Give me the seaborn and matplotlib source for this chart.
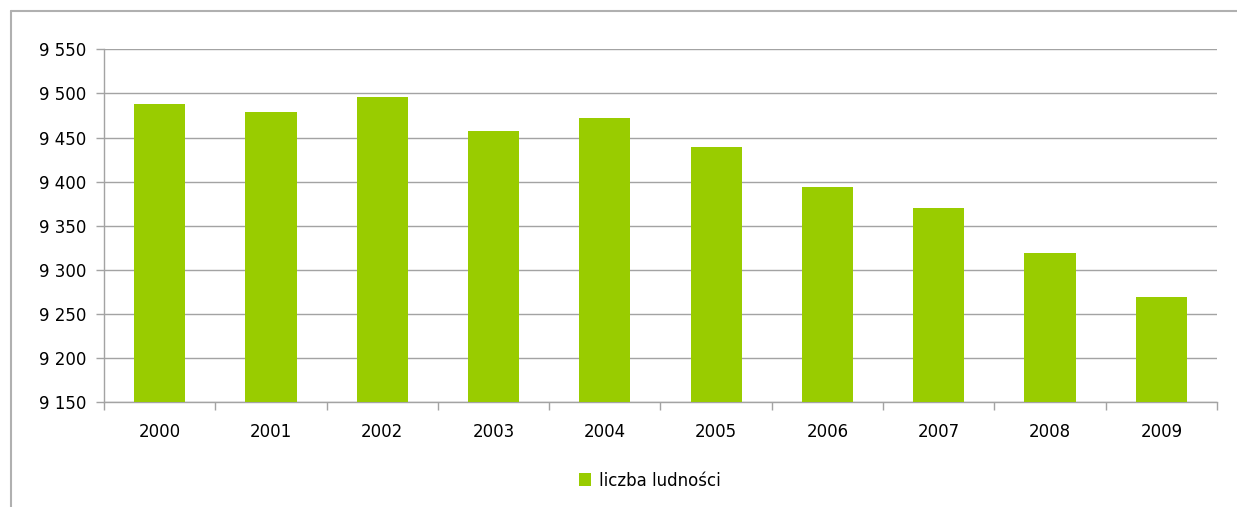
import matplotlib
matplotlib.use("Agg")
import matplotlib.pyplot as plt
from matplotlib.patches import Patch
from matplotlib.ticker import FuncFormatter, MultipleLocator, FixedLocator
import seaborn as sns
import pandas as pd

years = ["2000", "2001", "2002", "2003", "2004", "2005", "2006", "2007", "2008", "2009"]
population = [9488, 9479, 9496, 9457, 9472, 9439, 9394, 9370, 9319, 9269]
series_name = "liczba ludności"

df = pd.DataFrame({"rok": years, "ludnosc": population})

sns.set_theme(style="white")
plt.rcParams["font.family"] = ["DejaVu Sans"]

bar_color = "#99CC00"
grid_color = "#a3a3a3"
font_size = 12

fig = plt.figure(figsize=(12.37, 5.07), dpi=100)
ax = fig.add_axes([0.0841, 0.2065, 0.8997, 0.6963])

sns.barplot(data=df, x="rok", y="ludnosc", color=bar_color, width=0.46,
            saturation=1, linewidth=0, edgecolor="none", ax=ax, zorder=3)

ax.set_ylim(9150, 9550)
ax.set_xlim(-0.5, len(years) - 0.5)
ax.yaxis.set_major_locator(MultipleLocator(50))
ax.yaxis.set_major_formatter(FuncFormatter(lambda v, p: f"{int(v):,}".replace(",", " ")))
ax.grid(axis="y", color=grid_color, linewidth=1.0, zorder=0)
ax.set_axisbelow(True)
ax.set_xlabel("")
ax.set_ylabel("")

for side in ["top", "right"]:
    ax.spines[side].set_visible(False)
for side in ["left", "bottom"]:
    ax.spines[side].set_color(grid_color)
    ax.spines[side].set_linewidth(1.0)

# category boundary ticks on x, value ticks on y
ax.xaxis.set_minor_locator(FixedLocator([i - 0.5 for i in range(len(years) + 1)]))
ax.tick_params(axis="x", which="major", length=0, pad=15, labelsize=font_size, labelcolor="#000000")
ax.tick_params(axis="x", which="minor", bottom=True, length=6, width=1.0, color=grid_color, direction="out")
ax.tick_params(axis="y", which="major", left=True, length=6, width=1.0, color=grid_color,
               direction="out", pad=7, labelsize=font_size, labelcolor="#000000")

handles = [Patch(facecolor=bar_color, edgecolor="none", label=series_name)]
leg = fig.legend(handles=handles, loc="center", bbox_to_anchor=(0.525, 0.052), frameon=False,
                 fontsize=font_size, handlelength=0.75, handleheight=0.8, handletextpad=0.45)
for txt in leg.get_texts():
    txt.set_color("#000000")

# outer chart frame (top and left edges)
frame_color = "#b0b0b0"
fig.add_artist(plt.Line2D([11 / 1237, 1.0], [1 - 11 / 507, 1 - 11 / 507],
                          transform=fig.transFigure, color=frame_color, linewidth=1.5))
fig.add_artist(plt.Line2D([11 / 1237, 11 / 1237], [0.0, 1 - 11 / 507],
                          transform=fig.transFigure, color=frame_color, linewidth=1.5))

fig.savefig("out.png", dpi=100, facecolor="white")
